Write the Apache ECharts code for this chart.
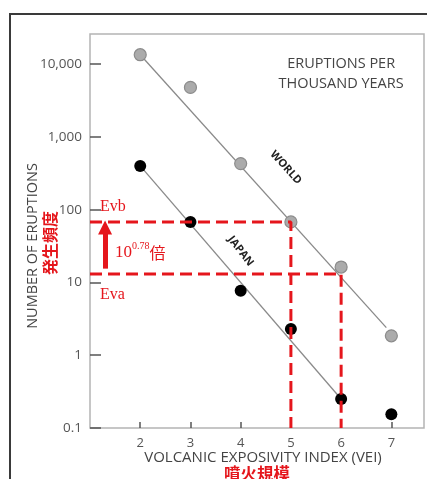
<!DOCTYPE html>
<html><head><meta charset="utf-8">
<script src="https://cdn.jsdelivr.net/npm/echarts@6/dist/echarts.min.js"></script>
<style>html,body{margin:0;padding:0;background:#fff}#c{width:427px;height:479px}</style>
</head><body><div id="c"></div>
<script>
// Data
var vei = [2, 3, 4, 5, 6, 7];
var worldValues = [13500, 4800, 430, 68, 16.3, 1.85];
var japanValues = [400, 68, 7.7, 2.3, 0.25, 0.155];
var worldFitX = [2, 6.9];
var worldFitY = [13500, 2.4];
var japanFitX = [2, 6];
var japanFitY = [400, 0.25];
var evb = 68, eva = 13.1;
var evbVei = 5, evaVei = 6;
var yTickValues = [0.1, 1, 10, 100, 1000, 10000];
var yTickLabels = ['0.1', '1', '10', '100', '1,000', '10,000'];
var xTickValues = [2, 3, 4, 5, 6, 7];

function pairs(xs, ys){ return xs.map(function(x,i){return [x, ys[i]];}); }

var chart = echarts.init(document.getElementById('c'));
var sans = '"Open Sans", "Liberation Sans", sans-serif';
var red = '#e5161c';
var option = {
  animation: false,
  grid: {left: 90, top: 34, right: 3, bottom: 51, show: true, borderColor: '#b4b4b4', borderWidth: 1.5},
  xAxis: {
    type: 'value', min: 1, max: 7.65, interval: 1,
    axisLine: {show: false},
    splitLine: {show: false},
    axisTick: {show: true, inside: true, length: 6, lineStyle: {color: '#555', width: 1.5}, customValues: xTickValues},
    axisLabel: {customValues: xTickValues, color: '#555', fontFamily: sans, fontSize: 13, margin: 9}
  },
  yAxis: {
    type: 'log', logBase: 10, min: 0.1, max: 26000,
    axisLine: {show: false},
    splitLine: {show: false},
    axisTick: {show: true, inside: true, length: 11, lineStyle: {color: '#555', width: 1.5}, customValues: yTickValues},
    axisLabel: {customValues: yTickValues, color: '#555', fontFamily: sans, fontSize: 13.5, margin: 8,
      formatter: function(v){ var i = yTickValues.findIndex(function(t){return Math.abs(Math.log10(t)-Math.log10(v))<1e-6;}); return i>=0 ? yTickLabels[i] : ''; }}
  },
  series: [
    {type: 'line', data: pairs(worldFitX, worldFitY), symbol: 'none', lineStyle: {color: '#8a8a8a', width: 1.3}, z: 2},
    {type: 'line', data: pairs(japanFitX, japanFitY), symbol: 'none', lineStyle: {color: '#8a8a8a', width: 1.3}, z: 2},
    {type: 'scatter', data: pairs(vei, worldValues), symbolSize: 12,
      itemStyle: {color: '#ababab', borderColor: '#8c8c8c', borderWidth: 1.2, opacity: 1}, z: 3},
    {type: 'scatter', data: pairs(vei, japanValues), symbolSize: 12,
      itemStyle: {color: '#000', opacity: 1}, z: 3},
    {type: 'line', data: [[1, evb], [evbVei, evb], [evbVei, 0.1]], symbol: 'none',
      lineStyle: {color: red, width: 3, type: [12, 6]}, z: 5},
    {type: 'line', data: [[1, eva], [evaVei, eva], [evaVei, 0.1]], symbol: 'none',
      lineStyle: {color: red, width: 3, type: [12, 6]}, z: 5,
      markLine: {silent: true, symbol: ['none', 'triangle'], symbolSize: [14, 14], label: {show: false},
        lineStyle: {color: red, width: 5, type: 'solid'},
        data: [[{coord: [1.3, 15.5]}, {coord: [1.3, 57]}]]}}
  ]
};
chart.setOption(option);

function px(x, y){ return chart.convertToPixel({gridIndex: 0}, [x, y]); }
var pW = px(4.9, 380), pJ = px(4.0, 27), pT = px(6.0, 7300);
var pEvb = px(1.2, 108), pEva = px(1.2, 6.8), pMul = px(1.52, 27);
chart.setOption({
  graphic: [
    {type: 'rect', shape: {x: 10, y: 14, width: 500, height: 600}, style: {fill: 'none', stroke: '#3a3a3a', lineWidth: 2}, silent: true, z: -1},
    {type: 'text', x: pT[0], y: pT[1], style: {text: 'ERUPTIONS PER\nTHOUSAND YEARS', fill: '#444', font: '14.5px ' + sans, align: 'center', verticalAlign: 'middle', lineHeight: 20}},
    {type: 'text', x: pW[0], y: pW[1], rotation: -48 * Math.PI / 180, style: {text: 'WORLD', fill: '#222', font: 'bold 11px ' + sans, align: 'center', verticalAlign: 'middle'}},
    {type: 'text', x: pJ[0], y: pJ[1], rotation: -52 * Math.PI / 180, style: {text: 'JAPAN', fill: '#222', font: 'bold 11px ' + sans, align: 'center', verticalAlign: 'middle'}},
    {type: 'text', x: 100, y: pEvb[1], style: {text: 'Evb', fill: red, font: '16px "Liberation Serif", serif', align: 'left', verticalAlign: 'middle'}},
    {type: 'text', x: 100, y: pEva[1], style: {text: 'Eva', fill: red, font: '16px "Liberation Serif", serif', align: 'left', verticalAlign: 'middle'}},
    {type: 'text', x: 115, y: pMul[1], style: {text: '{b|10}{s|0.78}{c|倍}', verticalAlign: 'middle', align: 'left',
      rich: {b: {fill: red, font: '17px "Liberation Serif", serif', verticalAlign: 'bottom'},
             s: {fill: red, font: '10px "Liberation Serif", serif', verticalAlign: 'top', padding: [0, 0, 9, 0]},
             c: {fill: red, font: '16px "Noto Sans CJK JP", sans-serif', verticalAlign: 'bottom'}}}},
    {type: 'text', x: 33, y: 246, rotation: Math.PI / 2, style: {text: 'NUMBER OF ERUPTIONS', fill: '#444', font: '14.5px ' + sans, align: 'center', verticalAlign: 'middle'}},
    {type: 'text', x: 50, y: 243, rotation: Math.PI / 2, style: {text: '発生頻度', fill: red, font: 'bold 16px "Noto Sans CJK JP", sans-serif', align: 'center', verticalAlign: 'middle'}},
    {type: 'text', x: 263, y: 458, style: {text: 'VOLCANIC EXPOSIVITY INDEX (VEI)', fill: '#444', font: '15px ' + sans, align: 'center', verticalAlign: 'middle'}},
    {type: 'text', x: 257, y: 474, style: {text: '噴火規模', fill: red, font: 'bold 16.5px "Noto Sans CJK JP", sans-serif', align: 'center', verticalAlign: 'middle'}}
  ]
});
</script></body></html>
